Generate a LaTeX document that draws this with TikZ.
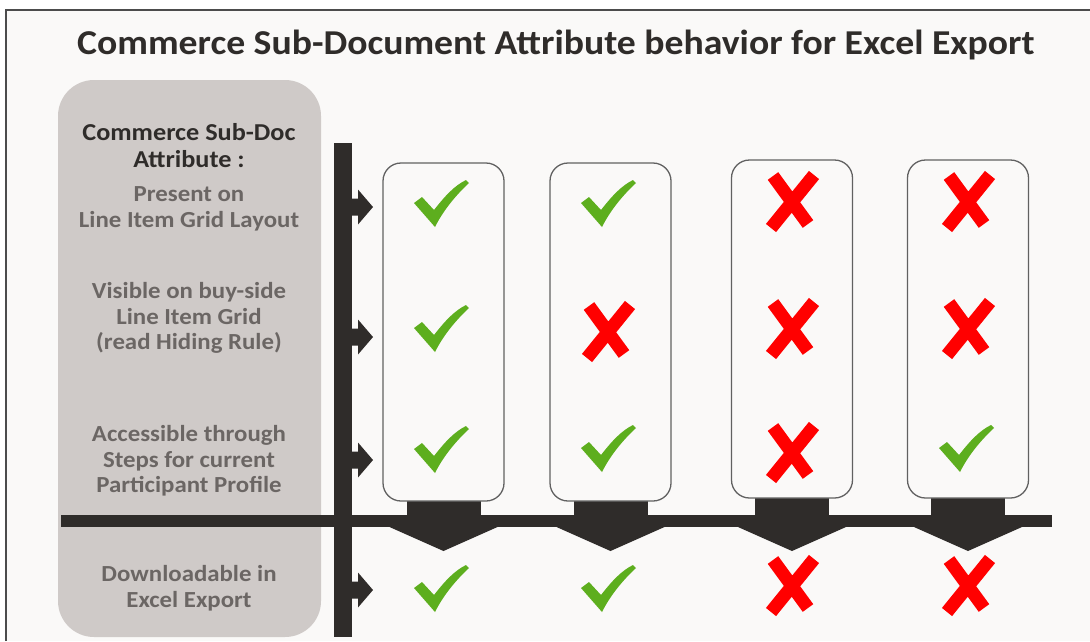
\documentclass[tikz,border=0pt]{standalone}
\usepackage{fontspec}
\setmainfont[FakeStretch=1.08]{Carlito}
\definecolor{barclr}{HTML}{2F2C2A}
\definecolor{panelclr}{HTML}{CFCAC8}
\definecolor{labelclr}{HTML}{6B6664}
\definecolor{okclr}{HTML}{5DAE1E}
\definecolor{noclr}{HTML}{FF0000}
\definecolor{pageclr}{HTML}{FAF9F8}
\tikzset{
  colbox/.style={draw=black!62, line width=1.3pt, rounded corners=18pt, fill=pageclr,
    minimum width=121pt, minimum height=338pt, inner sep=0pt},
  rowlabel/.style={text=labelclr, font=\bfseries\fontsize{23}{25.5}\selectfont, align=center},
  headlabel/.style={text=barclr, font=\bfseries\fontsize{24.3}{27}\selectfont, align=center}
}
% green tick and red cross, centred at #1
\newcommand{\okmark}[1]{\fill[okclr,shift={#1}] (-28,0) -- (-20,-6) -- (-8,7)
  .. controls (3,-7) and (12,-17) .. (24,-23) -- (27,-20)
  .. controls (13,-7) and (1,8) .. (-7,24) -- cycle;}
\newcommand{\nomark}[1]{\draw[noclr,line width=13pt,shift={#1}]
  (-18,-25) -- (17,23) (23,-26) -- (-20,27);}
\begin{document}
\begin{tikzpicture}[x=1pt,y=-1pt]
  \useasboundingbox (0,0) rectangle (1090,641);
  % page and frame
  \fill[pageclr] (6,10) rectangle (1090,641);
  \draw[black!70, line width=1.2pt] (6,641) -- (6,10) -- (1090,10);
  % title
  \node[anchor=base, text=barclr, font=\bfseries\fontsize{34.9}{40}\selectfont] (title) at (556,54)
    {Commerce Sub-Document Attribute behavior for Excel Export};
  % attribute panel
  \fill[panelclr, rounded corners=36pt] (58,80) rectangle (321,637);
  \node[headlabel] (head) at (189,146) {Commerce Sub-Doc\\Attribute :};
  \node[rowlabel] (present) at (189,209) {Present on\\Line Item Grid Layout};
  \node[rowlabel] (visible) at (189,318) {Visible on buy-side\\Line Item Grid\\(read Hiding Rule)};
  \node[rowlabel] (access) at (189,461) {Accessible through\\Steps for current\\Participant Profile};
  \node[rowlabel] (download) at (189,588) {Downloadable in\\Excel Export};
  % vertical and horizontal bars
  \fill[barclr] (334,143) rectangle (352,637);
  \fill[barclr] (61,515) rectangle (1052,527);
  % row arrows
  \foreach \y in {207,337,460,590}
    \fill[barclr] (350,\y-8.5) -- (358,\y-8.5) -- (358,\y-17.5) -- (373,\y)
      -- (358,\y+17.5) -- (358,\y+8.5) -- (350,\y+8.5) -- cycle;
  % columns with their funnels
  \foreach \c/\x/\y in {A/443.5/332, B/610.5/332, C/792/329, D/968/329} {
    \fill[barclr] (\x-37,\y) rectangle (\x+37,515);
    \fill[barclr] (\x-54,527) -- (\x+54,527) -- (\x,551) -- cycle;
    \node[colbox] (col\c) at (\x,\y) {};
  }
  % marks
  \okmark{(442,203)} \okmark{(442,328)} \okmark{(442,449)} \okmark{(442,588)}
  \okmark{(609,203)} \nomark{(607,331)} \okmark{(609,448)} \okmark{(609,588)}
  \nomark{(791,201)} \nomark{(791,328)} \nomark{(791,452)} \nomark{(791,585)}
  \nomark{(967,201)} \nomark{(967,328)} \okmark{(967,448)} \nomark{(967,585)}
\end{tikzpicture}
\end{document}
